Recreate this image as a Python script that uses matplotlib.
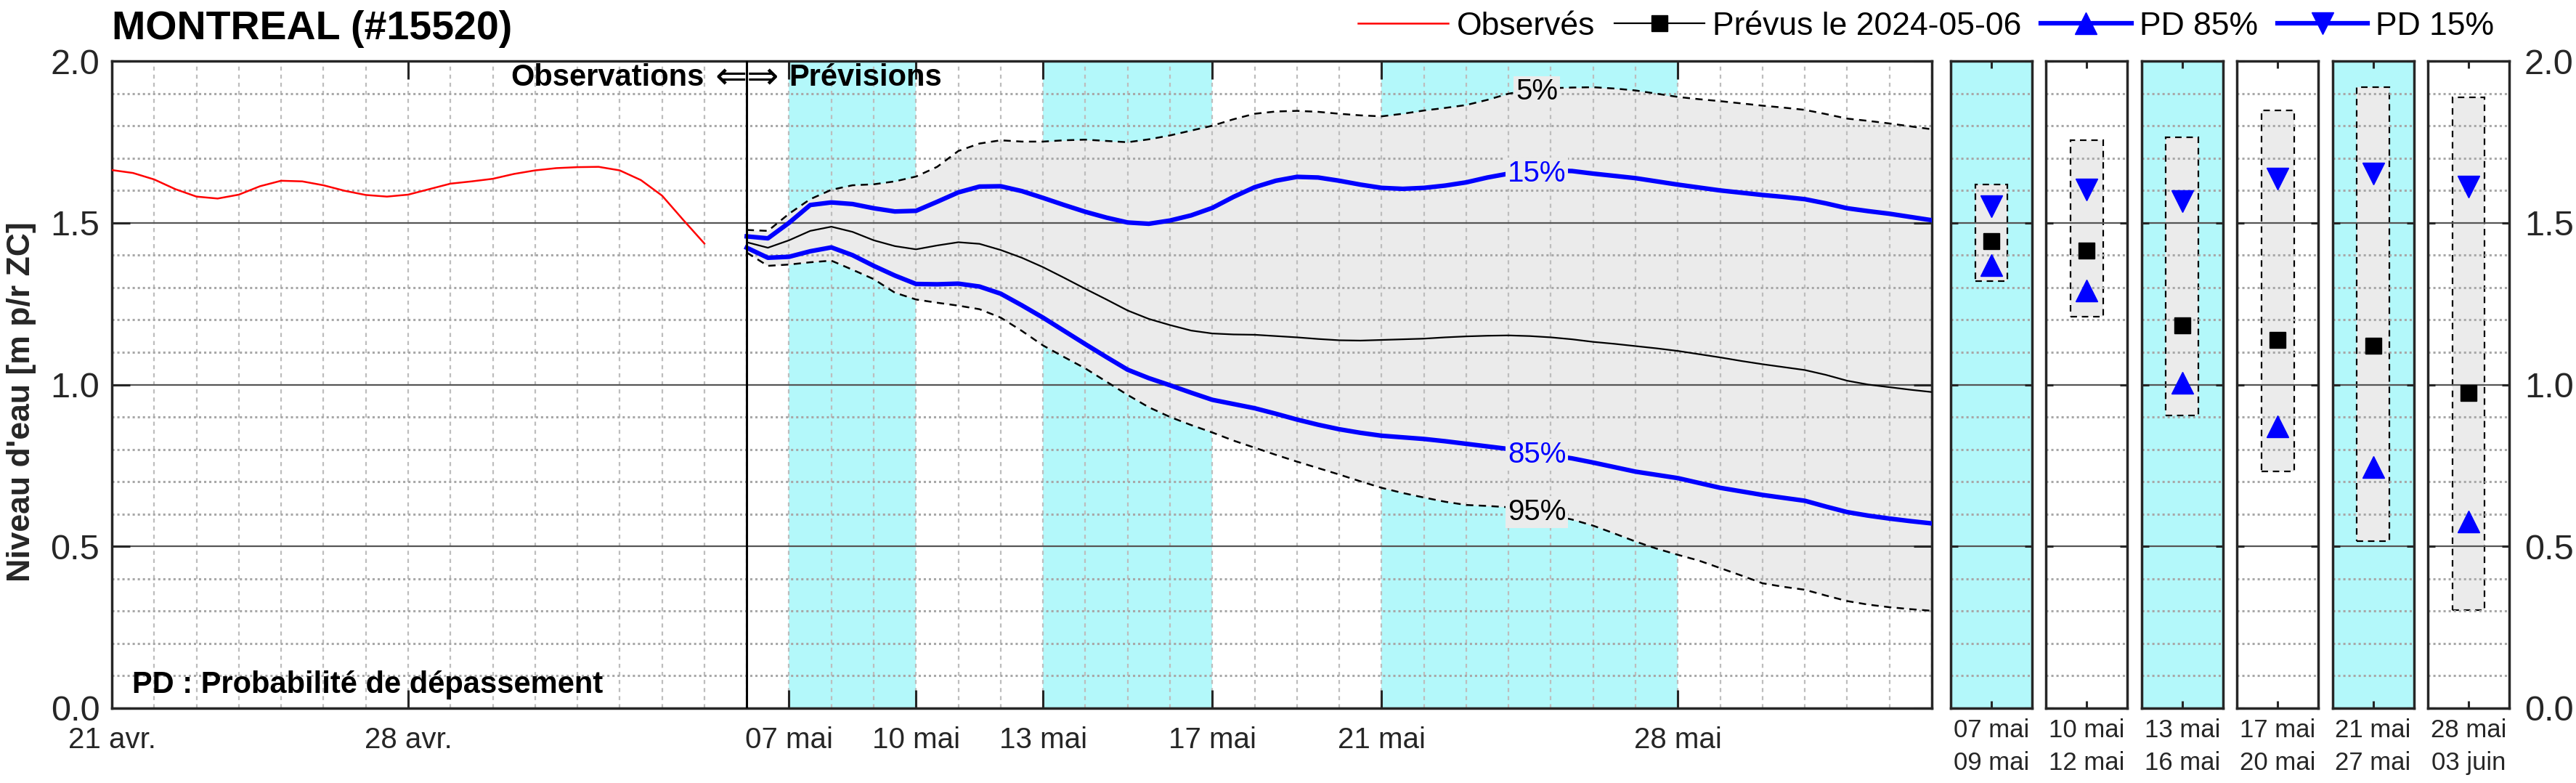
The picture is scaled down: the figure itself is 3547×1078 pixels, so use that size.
import numpy as np
import matplotlib
matplotlib.use("Agg")
import matplotlib.pyplot as plt
import matplotlib.dates as mdates
from matplotlib.lines import Line2D
from matplotlib.patches import Rectangle
from matplotlib.ticker import MultipleLocator

plt.rcParams['font.family'] = ['Liberation Sans', 'DejaVu Sans']

# observed levels, every 12 h from 2024-04-21 00h
obs_t0 = np.datetime64('2024-04-21T00:00')
obs_lvl = [1.663, 1.654, 1.634, 1.604, 1.581, 1.575, 1.587, 1.613, 1.630, 1.628,
           1.616, 1.599, 1.586, 1.581, 1.587, 1.604, 1.621, 1.628, 1.636, 1.651,
           1.662, 1.669, 1.672, 1.673, 1.662, 1.632, 1.584, 1.509, 1.436]

# forecast issued 2024-05-06, every 12 h
fc_t0 = np.datetime64('2024-05-06T00:00')
fc_med = [1.440, 1.423, 1.446, 1.475, 1.488, 1.472, 1.446, 1.428, 1.418, 1.430,
          1.440, 1.435, 1.416, 1.392, 1.363, 1.330, 1.296, 1.263, 1.229, 1.203,
          1.184, 1.167, 1.158, 1.155, 1.154, 1.150, 1.146, 1.141, 1.137, 1.136,
          1.138, 1.140, 1.142, 1.146, 1.149, 1.151, 1.152, 1.150, 1.146, 1.140,
          1.132, 1.126, 1.119, 1.112, 1.104, 1.094, 1.084, 1.073, 1.063, 1.054,
          1.045, 1.030, 1.012, 1.000, 0.992, 0.984, 0.977]
fc_pd15 = [1.458, 1.452, 1.500, 1.555, 1.563, 1.558, 1.545, 1.535, 1.537, 1.565,
           1.594, 1.612, 1.613, 1.598, 1.577, 1.555, 1.534, 1.516, 1.501, 1.497,
           1.507, 1.523, 1.546, 1.580, 1.610, 1.630, 1.642, 1.640, 1.630, 1.618,
           1.608, 1.605, 1.608, 1.615, 1.625, 1.640, 1.652, 1.658, 1.662, 1.660,
           1.652, 1.645, 1.638, 1.628, 1.618, 1.609, 1.600, 1.593, 1.586, 1.580,
           1.573, 1.560, 1.545, 1.536, 1.528, 1.518, 1.508]
fc_pd85 = [1.423, 1.392, 1.395, 1.412, 1.424, 1.400, 1.367, 1.337, 1.311, 1.310,
           1.312, 1.303, 1.281, 1.245, 1.207, 1.166, 1.125, 1.085, 1.046, 1.020,
           0.998, 0.975, 0.953, 0.940, 0.927, 0.910, 0.892, 0.876, 0.862, 0.851,
           0.842, 0.837, 0.832, 0.825, 0.817, 0.809, 0.801, 0.792, 0.782, 0.772,
           0.759, 0.745, 0.731, 0.721, 0.711, 0.696, 0.681, 0.670, 0.659, 0.650,
           0.641, 0.623, 0.606, 0.595, 0.586, 0.578, 0.571]
fc_p05 = [1.478, 1.475, 1.528, 1.573, 1.602, 1.616, 1.619, 1.628, 1.643, 1.673,
          1.722, 1.745, 1.755, 1.751, 1.751, 1.755, 1.757, 1.753, 1.749, 1.758,
          1.770, 1.785, 1.800, 1.820, 1.837, 1.844, 1.846, 1.843, 1.837, 1.832,
          1.829, 1.837, 1.847, 1.855, 1.864, 1.880, 1.899, 1.910, 1.916, 1.918,
          1.919, 1.915, 1.909, 1.899, 1.889, 1.882, 1.876, 1.869, 1.862, 1.856,
          1.849, 1.836, 1.822, 1.815, 1.807, 1.798, 1.789]
fc_p95 = [1.408, 1.367, 1.371, 1.378, 1.383, 1.355, 1.326, 1.284, 1.263, 1.253,
          1.244, 1.233, 1.207, 1.166, 1.121, 1.085, 1.050, 1.009, 0.968, 0.930,
          0.900, 0.875, 0.852, 0.827, 0.805, 0.783, 0.762, 0.742, 0.722, 0.701,
          0.681, 0.665, 0.651, 0.638, 0.628, 0.625, 0.621, 0.610, 0.597, 0.583,
          0.564, 0.540, 0.515, 0.493, 0.474, 0.456, 0.433, 0.410, 0.386, 0.375,
          0.366, 0.348, 0.331, 0.320, 0.312, 0.306, 0.301]

# summary periods
per_start = ['2024-05-07', '2024-05-10', '2024-05-13', '2024-05-17', '2024-05-21', '2024-05-28']
per_end = ['2024-05-09', '2024-05-12', '2024-05-16', '2024-05-20', '2024-05-27', '2024-06-03']
per_labels = ['07 mai\n09 mai', '10 mai\n12 mai', '13 mai\n16 mai',
              '17 mai\n20 mai', '21 mai\n27 mai', '28 mai\n03 juin']
per_shaded = [True, False, True, False, True, False]
per_p05 = [1.618, 1.755, 1.765, 1.847, 1.920, 1.888]
per_p95 = [1.319, 1.210, 0.904, 0.732, 0.516, 0.302]
per_pd15 = [1.551, 1.602, 1.567, 1.637, 1.652, 1.611]
per_med = [1.443, 1.415, 1.184, 1.137, 1.121, 0.975]
per_pd85 = [1.370, 1.290, 1.006, 0.870, 0.746, 0.576]

tick_dates = ['2024-04-21', '2024-04-28', '2024-05-07', '2024-05-10', '2024-05-13',
              '2024-05-17', '2024-05-21', '2024-05-28']
tick_labels = ['21 avr.', '28 avr.', '07 mai', '10 mai', '13 mai', '17 mai', '21 mai', '28 mai']

pct_text = ['5%', '15%', '85%', '95%']
pct_y = [1.905, 1.653, 0.784, 0.606]
pct_col = ['black', 'blue', 'blue', 'black']
pct_x = np.datetime64('2024-05-24T16:00')

cyan = '#b3f8fa'
band = '#ebebeb'
dark = '#262626'

obs_t = obs_t0 + np.arange(len(obs_lvl)) * np.timedelta64(12, 'h')
fc_t = fc_t0 + np.arange(len(fc_med)) * np.timedelta64(12, 'h')
obs_x = mdates.date2num(obs_t)
fc_x = mdates.date2num(fc_t)

W, H = 3547, 1078
def frac(l, r, t, b):
    return [l / W, 1 - b / H, (r - l) / W, (b - t) / H]

def style_axes(a, ticklen):
    for s in a.spines.values():
        s.set_linewidth(2.5)
        s.set_color(dark)
    a.set_ylim(0, 2)
    a.set_yticks([0, 0.5, 1.0, 1.5, 2.0])
    a.yaxis.set_minor_locator(MultipleLocator(0.1))
    a.set_axisbelow('line')
    a.grid(axis='y', which='minor', linestyle=(0, (1, 1.3)), color='#a8a8a8', lw=2.2)
    a.grid(axis='y', which='major', linestyle='-', color='#555555', lw=1.6)
    a.tick_params(which='major', direction='in', length=ticklen, width=2.2, color=dark,
                  top=True, right=True, labelcolor=dark)
    a.tick_params(which='minor', length=0)

fig = plt.figure(figsize=(W / 100, H / 100), dpi=100)

# ---- main time series axes
ax = fig.add_axes(frac(154, 2660, 84, 975))
style_axes(ax, 18)
ax.set_xlim(mdates.date2num(np.datetime64('2024-04-21')), mdates.date2num(np.datetime64('2024-06-03')))
ax.xaxis.set_minor_locator(mdates.DayLocator())
ax.grid(axis='x', which='both', linestyle=(0, (2.5, 2.5)), color='#bdbdbd', lw=1.6)
ax.set_xticks(mdates.date2num(np.array(tick_dates, dtype='datetime64[D]')))
ax.set_xticklabels(tick_labels)
ax.set_yticklabels(['0.0', '0.5', '1.0', '1.5', '2.0'])
ax.tick_params(axis='x', labelsize=29, pad=18)
ax.tick_params(axis='y', labelsize=35, pad=12)

for s, e, sh in zip(per_start, per_end, per_shaded):
    if sh:
        x0 = mdates.date2num(np.datetime64(s))
        x1 = mdates.date2num(np.datetime64(e) + np.timedelta64(1, 'D'))
        ax.axvspan(x0, x1, color=cyan, lw=0, zorder=0.5)

ax.fill_between(fc_x, fc_p95, fc_p05, color=band, lw=0, zorder=0.8)
ax.plot(obs_x, obs_lvl, color='red', lw=1.8, zorder=3)
ax.plot(fc_x, fc_p05, color='black', lw=1.8, ls=(0, (4, 3)), zorder=3)
ax.plot(fc_x, fc_p95, color='black', lw=1.8, ls=(0, (4, 3)), zorder=3)
ax.plot(fc_x, fc_med, color='black', lw=1.6, zorder=3)
ax.plot(fc_x, fc_pd15, color='blue', lw=4.5, zorder=3)
ax.plot(fc_x, fc_pd85, color='blue', lw=4.5, zorder=3)
ax.axvline(mdates.date2num(fc_t0), color='black', lw=2.2, zorder=3.5)

for t, y, c in zip(pct_text, pct_y, pct_col):
    ax.text(mdates.date2num(pct_x), y, t, color=c, fontsize=29, ha='center', va='center',
            zorder=4, bbox=dict(facecolor=band, edgecolor='none', pad=2))

ax.text(mdates.date2num(fc_t0 - np.timedelta64(1, 'D')), 1.948, 'Observations',
        fontsize=30, fontweight='bold', ha='right', va='center', zorder=5)
ax.text(mdates.date2num(fc_t0), 1.948, '\u21d0\u21d2', fontsize=38, family=['DejaVu Sans'],
        ha='center', va='center', zorder=5)
ax.text(mdates.date2num(fc_t0 + np.timedelta64(1, 'D')), 1.948, 'Prévisions',
        fontsize=30, fontweight='bold', ha='left', va='center', zorder=5)
ax.text(0.011, 0.036, 'PD : Probabilité de dépassement', transform=ax.transAxes,
        fontsize=30, fontweight='bold', ha='left', va='center', zorder=5)

# ---- period summary panels
for i in range(len(per_start)):
    l = 2686 + i * 131.4
    pax = fig.add_axes(frac(l, l + 112, 84, 975))
    style_axes(pax, 7)
    if per_shaded[i]:
        pax.set_facecolor(cyan)
    pax.set_xlim(0, 1)
    pax.set_xticks([0.5])
    pax.set_xticklabels([per_labels[i]], fontsize=25, linespacing=1.45)
    pax.tick_params(axis='x', pad=10)
    pax.add_patch(Rectangle((0.3, per_p95[i]), 0.4, per_p05[i] - per_p95[i],
                            facecolor=band, edgecolor='black', ls=(0, (4, 3)), lw=1.6, zorder=1))
    pax.plot([0.5], [per_pd15[i]], marker='v', color='blue', ms=22, ls='none', zorder=3)
    pax.plot([0.5], [per_pd85[i]], marker='^', color='blue', ms=22, ls='none', zorder=3)
    pax.plot([0.5], [per_med[i]], marker='s', color='black', ms=16, ls='none', zorder=3)
    if i == len(per_start) - 1:
        pax.tick_params(axis='y', labelleft=False, labelright=True, labelsize=35, pad=15)
        pax.set_yticklabels(['0.0', '0.5', '1.0', '1.5', '2.0'])
    else:
        pax.tick_params(axis='y', labelleft=False)

# ---- titles and legend
fig.text(154 / W, 1 - 40 / H, 'MONTREAL (#15520)', fontsize=40, fontweight='bold',
         ha='left', va='center')
fig.text(30 / W, 1 - 553 / H, "Niveau d'eau [m p/r ZC]", fontsize=32, fontweight='bold',
         rotation=90, ha='center', va='center', color=dark)

handles = [Line2D([], [], color='red', lw=1.8),
           Line2D([], [], color='black', lw=1.6, marker='s', ms=16),
           Line2D([], [], color='blue', lw=4.5, marker='^', ms=22),
           Line2D([], [], color='blue', lw=4.5, marker='v', ms=22)]
labels = ['Observés', 'Prévus le 2024-05-06', 'PD 85%', 'PD 15%']
fig.legend(handles, labels, loc='center left', bbox_to_anchor=(1870 / W, 1 - 36 / H),
           ncol=4, frameon=False, fontsize=32, handlelength=2.8, handletextpad=0.25,
           columnspacing=0.6, borderpad=0, borderaxespad=0)

fig.savefig('out.png', dpi=100)
